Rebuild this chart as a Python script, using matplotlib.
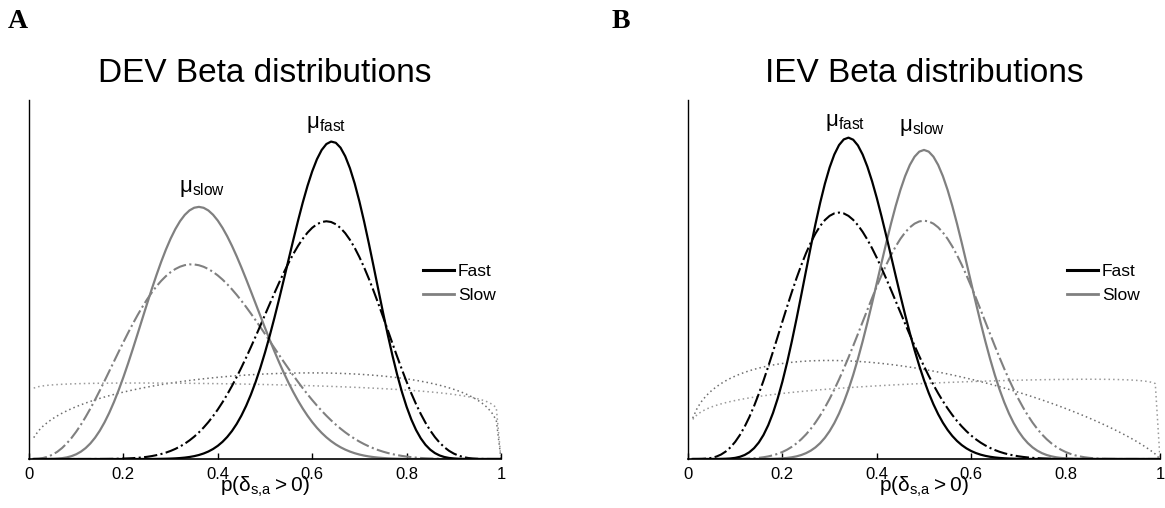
import math
import numpy as np
import matplotlib
matplotlib.use("Agg")
import matplotlib.pyplot as plt
from matplotlib.lines import Line2D

plt.rcParams["font.family"] = ["Liberation Sans", "DejaVu Sans"]
plt.rcParams["mathtext.fontset"] = "custom"
plt.rcParams["mathtext.rm"] = "Liberation Sans"

# Beta(a, b) parameters of each curve
# panel A: DEV
DEV_SOLID_FAST = (18.2, 10.6)
DEV_SOLID_SLOW = (6.9, 11.5)
DEV_DASH_FAST = (10.2, 6.4)
DEV_DASH_SLOW = (4.1, 6.9)
DEV_DOT_FAST = (1.4, 1.27)
DEV_DOT_SLOW = (1.03, 1.1)
# panel B: IEV
IEV_SOLID_FAST = (10.1, 18.7)
IEV_SOLID_SLOW = (14.8, 14.8)
IEV_DASH_FAST = (5.7, 11.0)
IEV_DASH_SLOW = (8.9, 8.9)
IEV_DOT_FAST = (1.34, 1.8)
IEV_DOT_SLOW = (1.17, 1.03)

TITLES = ["DEV Beta distributions", "IEV Beta distributions"]
PANEL_LETTERS = ["A", "B"]
XTICKS = [0, 0.2, 0.4, 0.6, 0.8, 1]
XTICK_LABELS = ["0", "0.2", "0.4", "0.6", "0.8", "1"]
# (label, x, y) for the mean annotations
MU_DEV = [(r"$\mathregular{\mu_{fast}}$", 0.63, 4.61),
          (r"$\mathregular{\mu_{slow}}$", 0.366, 3.72)]
MU_IEV = [(r"$\mathregular{\mu_{fast}}$", 0.333, 4.64),
          (r"$\mathregular{\mu_{slow}}$", 0.496, 4.57)]

FAST_C = "black"
SLOW_C = "#808080"


def beta_pdf(x, a, b):
    lnB = math.lgamma(a) + math.lgamma(b) - math.lgamma(a + b)
    with np.errstate(divide="ignore"):
        y = np.exp((a - 1) * np.log(x) + (b - 1) * np.log1p(-x) - lnB)
    y[~np.isfinite(y)] = 0.0
    return y


# evaluation grid 0.01 .. 1 in steps of 0.01
x = np.linspace(0.01, 1, 100)

fig = plt.figure(figsize=(11.65, 5.08), dpi=100)
axes = [fig.add_axes([29 / 1165, 49 / 508, 472 / 1165, 359 / 508]),
        fig.add_axes([688 / 1165, 49 / 508, 472 / 1165, 359 / 508])]

panels = [
    (DEV_SOLID_FAST, DEV_SOLID_SLOW, DEV_DASH_FAST, DEV_DASH_SLOW,
     DEV_DOT_FAST, DEV_DOT_SLOW, MU_DEV),
    (IEV_SOLID_FAST, IEV_SOLID_SLOW, IEV_DASH_FAST, IEV_DASH_SLOW,
     IEV_DOT_FAST, IEV_DOT_SLOW, MU_IEV),
]

for i, (ax, p) in enumerate(zip(axes, panels)):
    sf, ss, df, ds, pf, ps, mus = p
    ax.plot(x, beta_pdf(x, *pf), color="#6e6e6e", lw=1.1, ls=(0, (1, 2)))
    ax.plot(x, beta_pdf(x, *ps), color="#9a9a9a", lw=1.1, ls=(0, (1, 2)))
    ax.plot(x, beta_pdf(x, *ds), color=SLOW_C, lw=1.5, ls="-.")
    ax.plot(x, beta_pdf(x, *df), color=FAST_C, lw=1.5, ls="-.")
    ax.plot(x, beta_pdf(x, *ss), color=SLOW_C, lw=1.6)
    ax.plot(x, beta_pdf(x, *sf), color=FAST_C, lw=1.6)

    for lab, mx, my in mus:
        ax.text(mx, my, lab, ha="center", va="baseline", fontsize=16)

    ax.set_xlim(0, 1)
    ax.set_ylim(0, 5)
    ax.set_xticks(XTICKS)
    ax.set_xticklabels(XTICK_LABELS)
    ax.set_yticks([])
    ax.tick_params(axis="x", direction="in", length=4, width=1,
                   labelsize=12, pad=6)
    for s in ("top", "right"):
        ax.spines[s].set_visible(False)
    ax.spines["left"].set_linewidth(1)
    ax.spines["bottom"].set_linewidth(1.2)

    ax.set_title(TITLES[i], fontsize=24, pad=13)
    ax.text(0.5, -33 / 359, r"$\mathregular{p(\delta_{s{,}a} > 0)}$",
            transform=ax.transAxes, ha="center", va="baseline", fontsize=15)

    handles = [Line2D([], [], color=FAST_C, lw=2.2),
               Line2D([], [], color=SLOW_C, lw=2.0)]
    ax.legend(handles, ["Fast", "Slow"], loc="center left",
              bbox_to_anchor=(0.835 if i == 0 else 0.803, 0.489),
              frameon=False, fontsize=12.5, handlelength=1.8,
              handletextpad=0.2, borderpad=0, borderaxespad=0,
              labelspacing=0.5)

fig.text(8 / 1165, 1 - 28 / 508, PANEL_LETTERS[0], fontsize=20,
         fontweight="bold", family="Liberation Serif", va="baseline")
fig.text(612 / 1165, 1 - 28 / 508, PANEL_LETTERS[1], fontsize=20,
         fontweight="bold", family="Liberation Serif", va="baseline")

fig.savefig("out.png", dpi=100, facecolor="white")
